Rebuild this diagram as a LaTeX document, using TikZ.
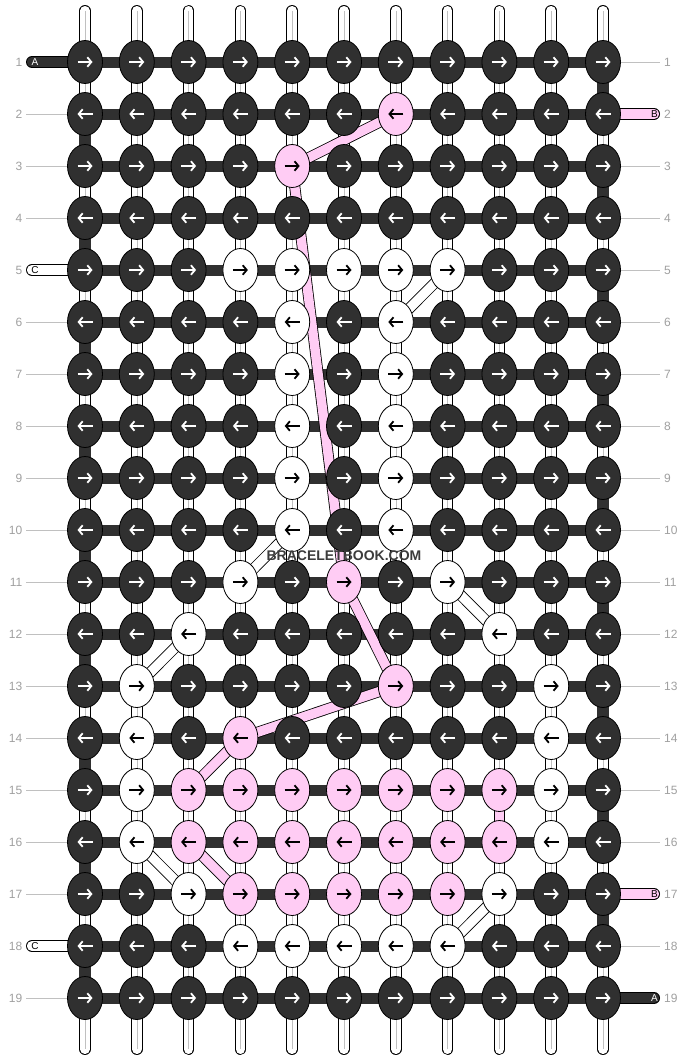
\documentclass[tikz,border=0pt]{standalone}
\usepackage{fontspec}
\setmainfont{Liberation Sans}
\usetikzlibrary{shapes.geometric,arrows.meta}
\definecolor{dk}{HTML}{303030}
\definecolor{pk}{HTML}{FFCCF4}
\definecolor{lbl}{HTML}{A0A0A0}
\definecolor{tkc}{HTML}{C0C0C0}
\definecolor{wmc}{HTML}{3C3C3C}
\begin{document}
\begin{tikzpicture}[x=1pt,y=-1pt,
  strout/.style={line width=11.5, black, line cap=round},
  strin/.style={line width=9.7, white, line cap=round},
  strmid/.style={line width=0.6, tkc},
  hbar/.style={line width=11, dk},
  turnbar/.style={line width=11.6, dk},
  pkvert/.style={line width=9.7, pk},
  fltout/.style={line width=11, black},
  fltpk/.style={line width=9.4, pk},
  fltwh/.style={line width=9.4, white},
  tickline/.style={line width=0.8, tkc},
  tagout/.style={line width=12, black, line cap=round},
  tagin/.style={line width=10.4, line cap=round},
  tagtext/.style={font=\fontsize{10}{10}\selectfont, inner sep=0pt},
  numtext/.style={font=\fontsize{12}{12}\selectfont, text=lbl, inner sep=0pt},
  knot/.style={ellipse, draw=black, line width=0.8, minimum width=35, minimum height=43, inner sep=0pt},
  kD/.style={fill=dk}, kW/.style={fill=white}, kP/.style={fill=pk},
  aD/.style={white}, aW/.style={black}, aP/.style={black},
  arrowsty/.style={line width=1.8, -{Straight Barb[length=4pt,width=9.5pt]}},
  wm/.style={font=\bfseries\fontsize{14}{14}\selectfont, text=wmc, inner sep=0pt}
]
\useasboundingbox[fill=white] (0,0) rectangle (688,1060);
% grid points
\foreach \r in {1,...,19}{
  \foreach \c in {1,...,11}{
    \coordinate (p-\r-\c) at ({85+(\c-1)*51.8},{62+(\r-1)*52});
  }
}
% vertical strings
\foreach \c in {1,...,11}{
  \coordinate (t-\c) at ({85+(\c-1)*51.8},10.8);
  \coordinate (b-\c) at ({85+(\c-1)*51.8},1049.2);
  \draw[strout] (t-\c) -- (b-\c);
  \draw[strin] (t-\c) -- (b-\c);
  \draw[strmid] (t-\c) -- (b-\c);
}
% horizontal bars
\foreach \r in {1,...,19}{
  \draw[hbar] (p-\r-1) -- (p-\r-11);
}
% edge turns
\foreach \r in {2,4,...,18}{
  \pgfmathtruncatemacro\n{\r+1}
  \draw[turnbar] (p-\r-1) -- (p-\n-1);
}
\foreach \r in {1,3,...,17}{
  \pgfmathtruncatemacro\n{\r+1}
  \draw[turnbar] (p-\r-11) -- (p-\n-11);
}
\draw[pkvert] (p-15-9) -- (p-16-9);
% left side ticks and tags
\foreach \r in {2,3,4,6,7,8,9,10,11,12,13,14,15,16,17,19}{
  \coordinate (ll-\r) at (26,{62+(\r-1)*52});
  \draw[tickline] (ll-\r) -- (p-\r-1);
}
\foreach \r/\fc/\tc/\lt in {1/dk/white/A,5/white/black/C,18/white/black/C}{
  \coordinate (ll-\r) at (32,{62+(\r-1)*52});
  \draw[tagout] (ll-\r) -- (p-\r-1);
  \draw[tagin, \fc] (ll-\r) -- (p-\r-1);
  \node[tagtext, text=\tc] (lt-\r) at (35,{62+(\r-1)*52}) {\lt};
}
% right side ticks and tags
\foreach \r in {1,3,4,5,6,7,8,9,10,11,12,13,14,15,16,18}{
  \coordinate (rr-\r) at (660,{62+(\r-1)*52});
  \draw[tickline] (p-\r-11) -- (rr-\r);
}
\foreach \r/\fc/\tc/\lt in {2/pk/black/B,17/pk/black/B,19/dk/white/A}{
  \coordinate (rr-\r) at (654,{62+(\r-1)*52});
  \draw[tagout] (p-\r-11) -- (rr-\r);
  \draw[tagin, \fc] (p-\r-11) -- (rr-\r);
  \node[tagtext, text=\tc] (rt-\r) at (654.5,{62+(\r-1)*52}) {\lt};
}
% row numbers
\foreach \r in {1,...,19}{
  \node[numtext, anchor=east] (nl-\r) at (22.5,{62+(\r-1)*52}) {\r};
  \node[numtext, anchor=west] (nr-\r) at (664,{62+(\r-1)*52}) {\r};
}
% floats
\foreach \a/\b in {2-7/3-5,3-5/11-6,11-6/13-7,13-7/14-4,14-4/15-3,16-3/17-4}{
  \draw[fltout] (p-\a) -- (p-\b);
  \draw[fltpk] (p-\a) -- (p-\b);
}
\foreach \a/\b in {5-8/6-7,10-5/11-4,11-8/12-9,12-3/13-2,16-2/17-3,17-9/18-8}{
  \draw[fltout] (p-\a) -- (p-\b);
  \draw[fltwh] (p-\a) -- (p-\b);
}
% knots
\foreach \pat [count=\r] in {
 {D,D,D,D,D,D,D,D,D,D,D},
 {D,D,D,D,D,D,P,D,D,D,D},
 {D,D,D,D,P,D,D,D,D,D,D},
 {D,D,D,D,D,D,D,D,D,D,D},
 {D,D,D,W,W,W,W,W,D,D,D},
 {D,D,D,D,W,D,W,D,D,D,D},
 {D,D,D,D,W,D,W,D,D,D,D},
 {D,D,D,D,W,D,W,D,D,D,D},
 {D,D,D,D,W,D,W,D,D,D,D},
 {D,D,D,D,W,D,W,D,D,D,D},
 {D,D,D,W,D,P,D,W,D,D,D},
 {D,D,W,D,D,D,D,D,W,D,D},
 {D,W,D,D,D,D,P,D,D,W,D},
 {D,W,D,P,D,D,D,D,D,W,D},
 {D,W,P,P,P,P,P,P,P,W,D},
 {D,W,P,P,P,P,P,P,P,W,D},
 {D,D,W,P,P,P,P,P,W,D,D},
 {D,D,D,W,W,W,W,W,D,D,D},
 {D,D,D,D,D,D,D,D,D,D,D}}{
  \pgfmathsetmacro\dir{ifthenelse(mod(\r,2)==1,1,-1)}
  \foreach \k [count=\c] in \pat {
    \node[knot, k\k] (k-\r-\c) at (p-\r-\c) {};
    \draw[arrowsty, a\k] ([xshift={-7.5*\dir}]k-\r-\c.center) -- ([xshift={7.5*\dir}]k-\r-\c.center);
  }
}
\node[wm] (wmark) at (344,556) {BRACELETBOOK.COM};
\end{tikzpicture}
\end{document}
